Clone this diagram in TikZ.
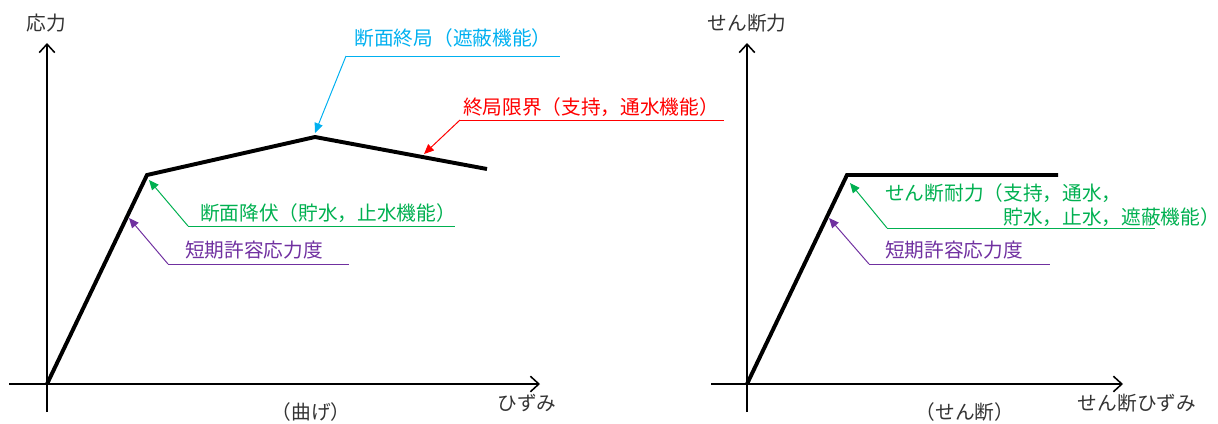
\documentclass[tikz,border=0pt]{standalone}
\usepackage{fontspec}
\setmainfont{Noto Sans CJK JP}
\usepackage{tikz}
\usetikzlibrary{arrows.meta}
\definecolor{lblcyan}{RGB}{0,176,240}
\definecolor{lblred}{RGB}{255,0,0}
\definecolor{lblgreen}{RGB}{0,176,80}
\definecolor{lblpurple}{RGB}{112,48,160}
\tikzstyle{axis} = [line width=1.1pt, -{Straight Barb[length=6pt,width=11pt]}, black]
\tikzstyle{curve} = [line width=2.8pt, black, line join=miter]
\tikzstyle{axislabel} = [inner sep=0pt, text=black!80]
\tikzstyle{note} = [inner sep=0pt]
\tikzstyle{leader} = [line width=0.7pt, -{Triangle[length=7pt,width=6pt]}]
\tikzstyle{uline} = [line width=0.7pt]

\begin{document}
\begin{tikzpicture}[x=0.025cm, y=-0.025cm, font=\fontsize{14}{17}\selectfont]
        \useasboundingbox (0,0) rectangle (1218,423);
        % left chart (bending)
        \coordinate (o1) at (47,384);
        \coordinate (yield1) at (147,175);
        \coordinate (peak1) at (315,137);
        \coordinate (end1) at (487,169);
        \draw [axis] (9,384) -- (540,384);
        \draw [axis] (47,412) -- (47,43);
        \node (stress) [axislabel] at (46,23) {応力};
        \node (strain) [axislabel] at (527,403) {ひずみ};
        \node (bend) [axislabel] at (311,412) {（曲げ）};
        \draw [curve] (o1) -- (yield1) -- (peak1) -- (end1);

        \node (ultsec) [note, text=lblcyan] at (453,38) {断面終局（遮蔽機能）};
        \coordinate (ultsecL) at (346,56);
        \coordinate (ultsecR) at (560,56);
        \coordinate (ultsecP) at (315,133);
        \draw [uline, lblcyan] (ultsecL) -- (ultsecR);
        \draw [leader, lblcyan] (ultsecL) -- (ultsecP);

        \node (ultlim) [note, text=lblred] at (591,107) {終局限界（支持，通水機能）};
        \coordinate (ultlimL) at (460,120);
        \coordinate (ultlimR) at (724,120);
        \coordinate (ultlimP) at (424,154);
        \draw [uline, lblred] (ultlimL) -- (ultlimR);
        \draw [leader, lblred] (ultlimL) -- (ultlimP);

        \node (yieldsec) [note, text=lblgreen] at (328,213) {断面降伏（貯水，止水機能）};
        \coordinate (yieldsecL) at (188,226);
        \coordinate (yieldsecR) at (455,226);
        \coordinate (yieldsecP) at (149,180);
        \draw [uline, lblgreen] (yieldsecL) -- (yieldsecR);
        \draw [leader, lblgreen] (yieldsecL) -- (yieldsecP);

        \node (allow1) [note, text=lblpurple] at (254,250) {短期許容応力度};
        \coordinate (allow1L) at (168,264);
        \coordinate (allow1R) at (349,264);
        \coordinate (allow1P) at (129,218);
        \draw [uline, lblpurple] (allow1L) -- (allow1R);
        \draw [leader, lblpurple] (allow1L) -- (allow1P);

        % right chart (shear)
        \coordinate (o2) at (747,384);
        \coordinate (yield2) at (847,175);
        \coordinate (end2) at (1058,175);
        \draw [axis] (711,384) -- (1123,384);
        \draw [axis] (747,412) -- (747,43);
        \node (shear) [axislabel] at (747,23) {せん断力};
        \node (shstrain) [axislabel] at (1137,403) {せん断ひずみ};
        \node (shearcap) [axislabel] at (965,412) {（せん断）};
        \draw [curve] (o2) -- (yield2) -- (end2);

        \node (shres) [note, text=lblgreen, anchor=west, align=left] at (885,205) {せん断耐力（支持，通水，\\\hspace*{6em}貯水，止水，遮蔽機能）};
        \coordinate (shresL) at (887,228);
        \coordinate (shresR) at (1155,228);
        \coordinate (shresP) at (850,183);
        \draw [uline, lblgreen] (shresL) -- (shresR);
        \draw [leader, lblgreen] (shresL) -- (shresP);

        \node (allow2) [note, text=lblpurple] at (954,250) {短期許容応力度};
        \coordinate (allow2L) at (869,264);
        \coordinate (allow2R) at (1050,264);
        \coordinate (allow2P) at (829,218);
        \draw [uline, lblpurple] (allow2L) -- (allow2R);
        \draw [leader, lblpurple] (allow2L) -- (allow2P);
    \end{tikzpicture}
\end{document}
